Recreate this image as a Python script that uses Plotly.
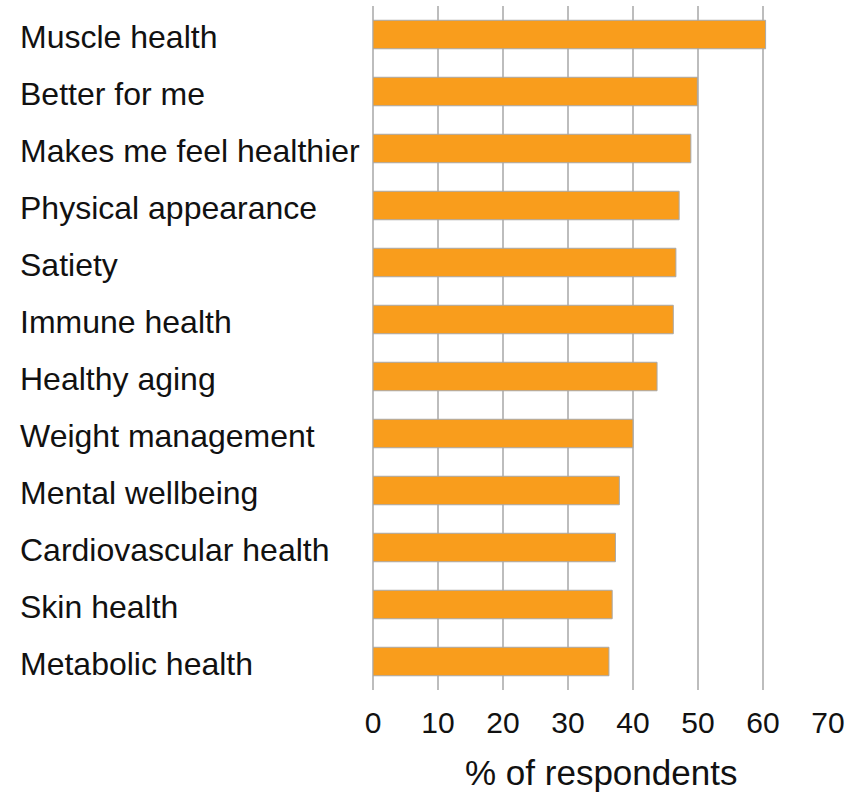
import plotly.graph_objects as go

categories = [
    "Muscle health", "Better for me", "Makes me feel healthier", "Physical appearance",
    "Satiety", "Immune health", "Healthy aging", "Weight management",
    "Mental wellbeing", "Cardiovascular health", "Skin health", "Metabolic health",
]
values = [60.4, 49.9, 48.9, 47.1, 46.6, 46.2, 43.7, 40.0, 37.9, 37.3, 36.8, 36.3]
x_ticks = [0, 10, 20, 30, 40, 50, 60, 70]
x_title = "% of respondents"

W, H = 859, 792
L, R, T, B = 373, 31, 6, 102
plot_w = W - L - R
plot_h = H - T - B

fig = go.Figure()
fig.add_trace(go.Bar(
    y=categories, x=values, orientation="h",
    marker=dict(color="#F99D1C", line=dict(color="#A8A8A8", width=1)),
    hoverinfo="x+y",
))

font_family = "Liberation Sans, Arial, sans-serif"
annotations = []
for c in categories:
    annotations.append(dict(
        x=(18 - L) / plot_w, xref="paper", xanchor="left",
        y=c, yref="y", yanchor="middle", yshift=-2,
        text=c, showarrow=False,
        font=dict(family=font_family, size=32, color="#111111"),
    ))
annotations.append(dict(
    x=0.5, xref="paper", xanchor="center",
    y=-(772 - (H - B)) / plot_h, yref="paper", yanchor="middle",
    text=x_title, showarrow=False,
    font=dict(family=font_family, size=35, color="#111111"),
))

fig.update_layout(
    width=W, height=H,
    margin=dict(l=L, r=R, t=T, b=B, pad=0, autoexpand=False),
    paper_bgcolor="white", plot_bgcolor="white",
    bargap=0.5,
    showlegend=False,
    annotations=annotations,
    xaxis=dict(
        range=[0, 70], tickvals=x_ticks, ticktext=[str(v) for v in x_ticks],
        showgrid=True, gridcolor="#BDBDBD", gridwidth=2,
        zeroline=True, zerolinecolor="#BDBDBD", zerolinewidth=2,
        showline=False, ticks="",
        ticklabelstandoff=12,
        tickfont=dict(family=font_family, size=30, color="#111111"),
        automargin=False,
        fixedrange=True,
    ),
    yaxis=dict(
        categoryorder="array", categoryarray=categories,
        autorange="reversed",
        showticklabels=False, showgrid=False, zeroline=False, showline=False,
        ticks="", fixedrange=True, automargin=False,
    ),
)

fig.write_html(
    "out.html",
    config={"displayModeBar": False},
    post_script="document.body.style.margin='0';document.body.style.padding='0';document.body.style.overflow='hidden';",
)
